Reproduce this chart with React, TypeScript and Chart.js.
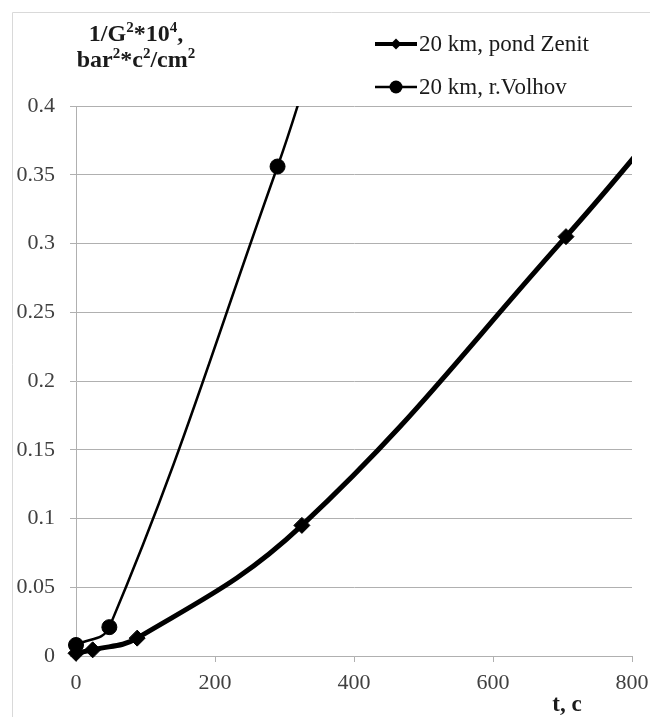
import { useEffect, useRef } from "react";
import { Chart, registerables } from "chart.js";

Chart.register(...registerables);

// ---- data ----
const seriesNames = ["20 km, pond Zenit", "20 km, r.Volhov"];
const zenitT = [0, 24, 88, 325, 705, 860];
const zenitG = [0.002, 0.0045, 0.013, 0.095, 0.305, 0.397];
const zenitMarked = [true, true, true, true, true, false];
const volhovT = [0, 48, 290, 340];
const volhovG = [0.008, 0.021, 0.356, 0.434];
const volhovMarked = [true, true, true, false];
const xMin = 0;
const xMax = 800;
const xStep = 200;
const yMin = 0;
const yMax = 0.4;
const yStep = 0.05;
const yTitleLines: [string, boolean][][] = [
  [["1/G", false], ["2", true], ["*10", false], ["4", true], [",", false]],
  [["bar", false], ["2", true], ["*c", false], ["2", true], ["/cm", false], ["2", true]],
];
const xTitle = "t, c";

const W = 650;
const H = 717;
const SERIF = "'Liberation Serif', 'Times New Roman', serif";
const GRID = "#b0b0b0";

const toPoints = (xs: number[], ys: number[]) => xs.map((x, i) => ({ x, y: ys[i] }));

const overlayPlugin = {
  id: "overlay",
  beforeDraw(chart: any) {
    const ctx = chart.ctx as CanvasRenderingContext2D;
    ctx.save();
    ctx.strokeStyle = "#d9d9d9";
    ctx.lineWidth = 1;
    ctx.beginPath();
    ctx.moveTo(12.5, H);
    ctx.lineTo(12.5, 12.5);
    ctx.lineTo(W, 12.5);
    ctx.stroke();
    ctx.restore();
  },
  afterDraw(chart: any) {
    const ctx = chart.ctx as CanvasRenderingContext2D;
    ctx.save();
    // y axis title with superscripts
    const mainFont = `bold 24px ${SERIF}`;
    const supFont = `bold 15px ${SERIF}`;
    const baselines = [41, 67];
    const cx = 136;
    ctx.fillStyle = "#1a1a1a";
    ctx.textBaseline = "alphabetic";
    ctx.textAlign = "left";
    yTitleLines.forEach((segs, li) => {
      let total = 0;
      segs.forEach(([t, sup]) => {
        ctx.font = sup ? supFont : mainFont;
        total += ctx.measureText(t).width;
      });
      let x = cx - total / 2;
      segs.forEach(([t, sup]) => {
        ctx.font = sup ? supFont : mainFont;
        ctx.fillText(t, x, baselines[li] - (sup ? 9 : 0));
        x += ctx.measureText(t).width;
      });
    });
    // x axis title
    ctx.font = `bold 23px ${SERIF}`;
    ctx.textAlign = "center";
    ctx.fillText(xTitle, 567, 711);

    // legend
    const rows = [44, 87];
    const x0 = 375;
    const x1 = 417;
    chart.data.datasets.forEach((ds: any, i: number) => {
      const y = rows[i];
      ctx.strokeStyle = ds.borderColor;
      ctx.lineWidth = ds.legendLineWidth;
      ctx.beginPath();
      ctx.moveTo(x0, y);
      ctx.lineTo(x1, y);
      ctx.stroke();
      ctx.fillStyle = ds.borderColor;
      const mx = (x0 + x1) / 2;
      const r = ds.legendRadius;
      ctx.beginPath();
      if (ds.pointStyle === "rectRot") {
        ctx.moveTo(mx, y - r);
        ctx.lineTo(mx + r, y);
        ctx.lineTo(mx, y + r);
        ctx.lineTo(mx - r, y);
        ctx.closePath();
      } else {
        ctx.arc(mx, y, r, 0, Math.PI * 2);
      }
      ctx.fill();
      ctx.fillStyle = "#1a1a1a";
      ctx.font = `23px ${SERIF}`;
      ctx.textAlign = "left";
      ctx.textBaseline = "middle";
      ctx.fillText(ds.label, x1 + 2, y + 1);
    });
    ctx.restore();
  },
};

export default function App() {
  const ref = useRef<HTMLCanvasElement | null>(null);
  useEffect(() => {
    if (!ref.current) return;
    const chart = new Chart(ref.current, {
      type: "scatter",
      data: {
        datasets: [
          {
            label: seriesNames[0],
            data: toPoints(zenitT, zenitG),
            showLine: true,
            borderColor: "#000000",
            backgroundColor: "#000000",
            borderWidth: 5,
            tension: 0.4,
            pointStyle: "rectRot",
            pointRadius: zenitMarked.map((m) => (m ? 8 : 0)),
            pointBorderWidth: 1,
            clip: { left: 20, bottom: 20, top: 0, right: 0 },
            legendLineWidth: 4,
            legendRadius: 5.5,
          } as any,
          {
            label: seriesNames[1],
            data: toPoints(volhovT, volhovG),
            showLine: true,
            borderColor: "#000000",
            backgroundColor: "#000000",
            borderWidth: 2.5,
            tension: 0.4,
            pointStyle: "circle",
            pointRadius: volhovMarked.map((m) => (m ? 7.5 : 0)),
            pointBorderWidth: 1,
            clip: { left: 20, bottom: 20, top: 0, right: 0 },
            legendLineWidth: 2.5,
            legendRadius: 6.5,
          } as any,
        ],
      },
      options: {
        animation: false,
        responsive: false,
        events: [],
        elements: { line: { capBezierPoints: false } },
        layout: { padding: { top: 106, right: 18, left: 0, bottom: 0 } },
        plugins: {
          legend: { display: false },
          tooltip: { enabled: false },
          title: { display: false },
        },
        scales: {
          x: {
            type: "linear",
            min: xMin,
            max: xMax,
            afterFit: (s: any) => {
              s.height = 61;
              s.paddingLeft = 0;
              s.paddingRight = 0;
            },
            ticks: {
              stepSize: xStep,
              color: "#404040",
              font: { family: SERIF, size: 22 },
              padding: 8,
              maxRotation: 0,
            },
            grid: {
              drawOnChartArea: false,
              drawTicks: true,
              tickLength: 6,
              color: GRID,
            },
            border: { display: true, color: GRID, width: 1 },
          },
          y: {
            type: "linear",
            min: yMin,
            max: yMax,
            afterFit: (s: any) => {
              s.width = 76;
              s.paddingTop = 0;
              s.paddingBottom = 0;
            },
            ticks: {
              stepSize: yStep,
              color: "#404040",
              font: { family: SERIF, size: 22 },
              padding: 15,
              callback: (v: any) => String(Number(Number(v).toFixed(2))),
            },
            grid: {
              drawTicks: true,
              tickLength: 6,
              color: GRID,
              lineWidth: 1,
            },
            border: { display: true, color: GRID, width: 1 },
          },
        },
      } as any,
      plugins: [overlayPlugin],
    });
    return () => chart.destroy();
  }, []);
  return (
    <div style={{ position: "absolute", left: 0, top: 0, width: W, height: H, background: "#fff" }}>
      <canvas ref={ref} width={W} height={H} style={{ display: "block" }} />
    </div>
  );
}
